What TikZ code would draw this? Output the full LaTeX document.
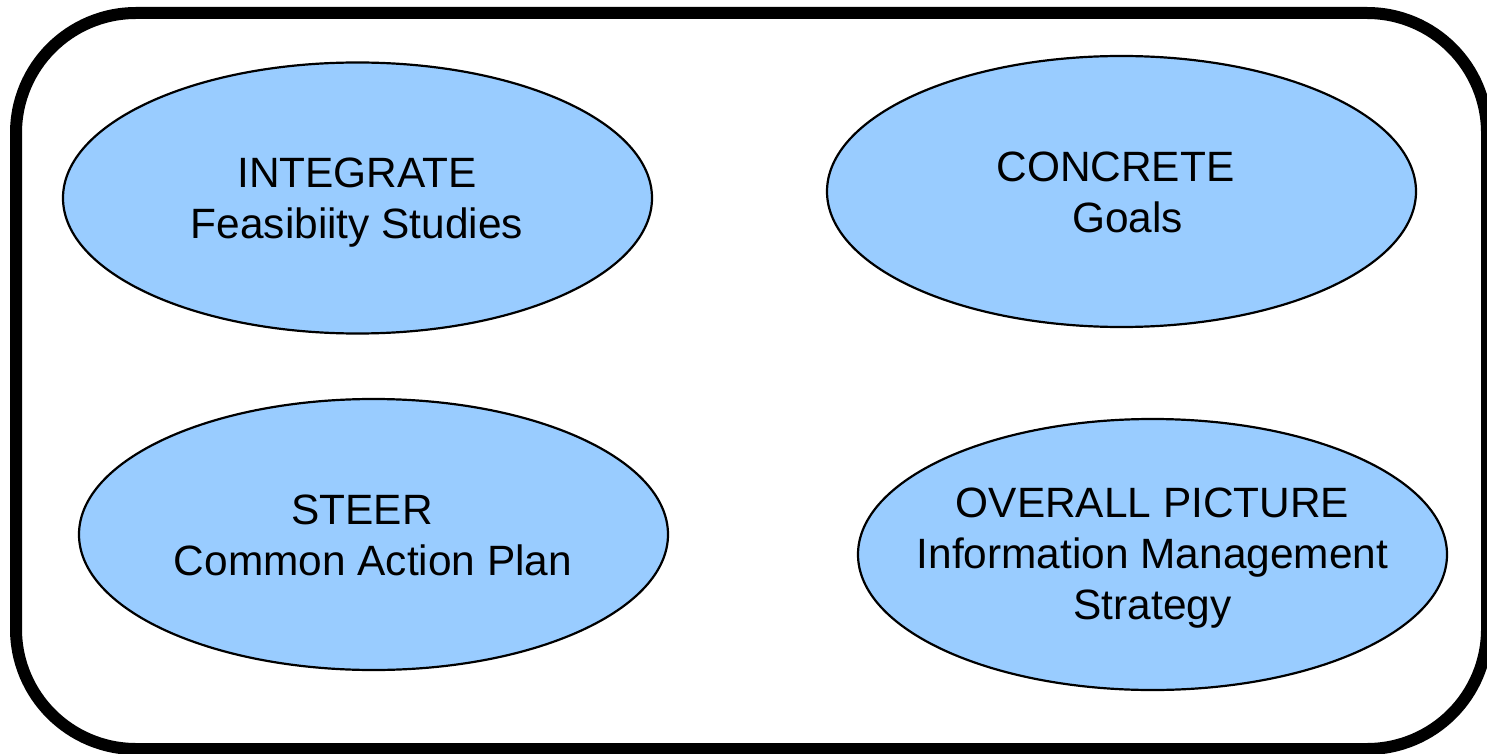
\documentclass[tikz,border=0pt]{standalone}
\usepackage{fontspec}
\setmainfont{Liberation Sans}
\usetikzlibrary{shapes.geometric}
\definecolor{bubblefill}{HTML}{99CCFF}
\begin{document}
\begin{tikzpicture}[x=0.5pt,y=-0.5pt,
  framebox/.style={draw=black,line width=6pt,rounded corners=60pt,inner sep=0pt,
    minimum width=735.5pt,minimum height=368pt},
  bubbleshape/.style={ellipse,draw=black,line width=1.1pt,fill=bubblefill,
    minimum width=294.5pt,minimum height=135.5pt,inner sep=0pt},
  bubbletext/.style={align=center,inner sep=0pt,
    font=\fontsize{21.2pt}{25.5pt}\selectfont}]
\useasboundingbox (0,0) rectangle (1487,754);
\node[framebox] (frame) at (751.5,381) {};
\node[bubbleshape] (e1) at (357.5,198) {};
\node[bubbleshape] (e2) at (1121.5,191.5) {};
\node[bubbleshape] (e3) at (373.5,534.5) {};
\node[bubbleshape] (e4) at (1152.5,554.5) {};
\node[bubbletext] (t1) at (357,202.75) {INTEGRATE\\Feasibiity Studies};
\node[bubbletext] (t2) at (1115.5,192.3) {CONCRETE\\\hspace*{12pt}Goals};
\node[bubbletext] (t3) at (373,535.3) {STEER\hspace*{11pt}\\Common Action Plan};
\node[bubbletext] (t4) at (1152.5,558.25) {OVERALL PICTURE\\Information Management\\Strategy};
\end{tikzpicture}
\end{document}
